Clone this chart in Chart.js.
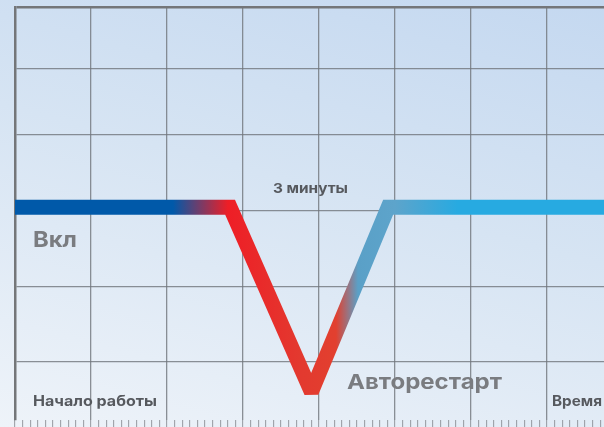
<!DOCTYPE html>
<html><head><meta charset="utf-8">
<script src="https://cdn.jsdelivr.net/npm/chart.js@4"></script>
<style>
html,body{margin:0;padding:0;width:604px;height:427px;overflow:hidden;}
body{background:linear-gradient(195deg,#c4d8f0 0%,#d6e4f3 45%,#eef3f9 100%);}
#wrap{position:relative;width:604px;height:427px;}
</style></head><body>
<div id="wrap"><canvas id="c"></canvas></div>
<script>
// ---- data ----
const timeX  = [0, 2.83, 3.9, 4.91, 8];            // time positions (grid cells)
const stateY = [3.046, 3.046, 0.604, 3.046, 3.046]; // on / off level
const xMin = 0, xMax = 7.75;
const yMin = 0.2335, yMax = 5.6916;
const yGridTicks = [1, 2, 3, 4, 4.872, yMax];
const xGridTicks = [];
for (let i = 0; i <= 77; i++) xGridTicks.push(i / 10);
const labelTexts = ['3 минуты', 'Вкл', 'Начало работы', 'Авторестарт', 'Время'];

// ---- label styles / placement ----
const labelStyle = [
  {x: 273, y: 193, w: 75,  size: 13.5, color: '#56595e'},
  {x: 33,  y: 247, w: 44,  size: 22,   color: '#7a7c80'},
  {x: 33,  y: 406, w: 124, size: 14.5, color: '#56595e'},
  {x: 347, y: 389, w: 155, size: 20.5, color: '#7a7c80'},
  {x: 552, y: 406, w: 50,  size: 14.5, color: '#56595e'}
];

const gridCol = 'rgba(112,117,124,0.8)';

function lineGradient(ctx) {
  const chart = ctx.chart;
  const area = chart.chartArea;
  if (!area) return '#0059a9';
  const g = chart.ctx.createLinearGradient(area.left, 0, area.right, 0);
  const w = area.right - area.left;
  const f = px => Math.min(1, Math.max(0, (px - area.left) / w));
  g.addColorStop(0, '#0059a9');
  g.addColorStop(f(173), '#0059a9');
  g.addColorStop(f(228), '#ee1e26');
  g.addColorStop(f(300), '#e3392f');
  g.addColorStop(f(336), '#e2402f');
  g.addColorStop(f(358), '#5aa0c7');
  g.addColorStop(f(395), '#5da4cb');
  g.addColorStop(f(458), '#27aae1');
  g.addColorStop(1, '#27aae1');
  return g;
}

const miterPlugin = {
  id: 'miter',
  beforeDatasetsDraw(chart) { chart.ctx.miterLimit = 2; }
};
const textPlugin = {
  id: 'texts',
  afterDraw(chart) {
    const c = chart.ctx;
    labelTexts.forEach((t, i) => {
      const l = labelStyle[i];
      c.save();
      c.textBaseline = 'alphabetic';
      c.textAlign = 'left';
      c.font = 'bold ' + l.size + 'px Inter, "Liberation Sans", sans-serif';
      c.fillStyle = l.color;
      const m = c.measureText(t).width;
      c.translate(l.x, l.y);
      c.scale(l.w / m, 1);
      c.fillText(t, 0, 0);
      c.restore();
    });
  }
};

new Chart(document.getElementById('c'), {
  type: 'line',
  data: {
    datasets: [{
      data: timeX.map((x, i) => ({x, y: stateY[i]})),
      borderColor: lineGradient,
      borderWidth: 15,
      borderJoinStyle: 'miter',
      borderCapStyle: 'butt',
      pointRadius: 0,
      tension: 0,
      fill: false
    }]
  },
  options: {
    responsive: true,
    maintainAspectRatio: false,
    animation: false,
    layout: {padding: {left: 15, top: 7, right: 0, bottom: 0}},
    plugins: {legend: {display: false}, tooltip: {enabled: false}},
    scales: {
      x: {
        type: 'linear', min: xMin, max: xMax,
        afterBuildTicks: s => { s.ticks = xGridTicks.map(v => ({value: v})); },
        ticks: {display: false},
        border: {display: false},
        grid: {
          drawTicks: true, tickLength: 7,
          color: ctx => (Math.round(ctx.tick.value * 10) % 10 === 0 && ctx.tick.value > 0) ? gridCol : 'rgba(0,0,0,0)',
          lineWidth: 1.3,
          tickColor: 'rgba(120,124,130,0.75)',
          tickWidth: 1
        }
      },
      y: {
        type: 'linear', min: yMin, max: yMax,
        afterBuildTicks: s => { s.ticks = yGridTicks.map(v => ({value: v})); },
        ticks: {display: false},
        border: {display: true, color: '#747679', width: 2.5},
        grid: {
          drawTicks: false,
          color: ctx => ctx.tick.value === yMax ? '#747679' : gridCol,
          lineWidth: ctx => ctx.tick.value === yMax ? 2.5 : 1.3
        }
      }
    }
  },
  plugins: [miterPlugin, textPlugin]
});
</script>
</body></html>
